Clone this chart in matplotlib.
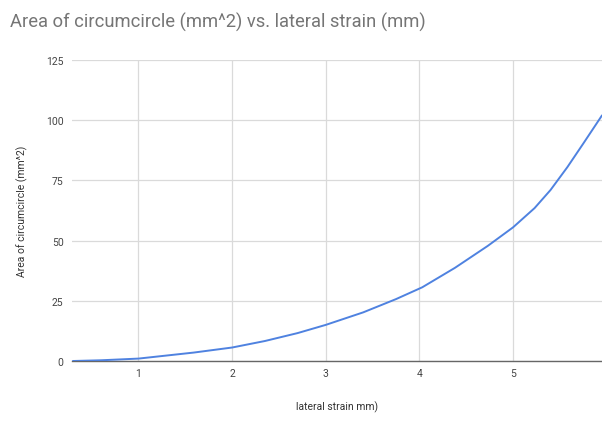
import matplotlib
matplotlib.use("Agg")
import matplotlib.pyplot as plt

# Data
lateral_strain = [0.30, 0.60, 1.00, 1.59, 2.00, 2.35, 2.70, 3.00, 3.40, 3.75,
                  4.03, 4.38, 4.73, 5.00, 5.23, 5.40, 5.58, 5.75, 5.95]
area = [0.0, 0.3, 1.0, 3.5, 5.6, 8.3, 11.6, 15.0, 20.2, 25.7,
        30.6, 38.7, 47.8, 55.5, 63.5, 71.0, 80.5, 90.3, 102.0]
x_ticks = [1, 2, 3, 4, 5]
y_ticks = [0, 25, 50, 75, 100, 125]

title = "Area of circumcircle (mm^2) vs. lateral strain (mm)"
x_label = "lateral strain mm)"
y_label = "Area of circumcircle (mm^2)"

plt.rcParams['font.family'] = ['Roboto', 'DejaVu Sans']

fig = plt.figure(figsize=(6.02, 4.27), dpi=100)
ax = fig.add_axes([72/602, 1-362/427, 1-72/602, (362-61)/427])

ax.plot(lateral_strain, area, color="#4f82e0", linewidth=1.4,
        solid_capstyle="round", solid_joinstyle="round", zorder=3)

ax.set_xlim(0.29, 5.95)
ax.set_ylim(0, 125)
ax.set_xticks(x_ticks)
ax.set_yticks(y_ticks)
ax.set_xticklabels([str(t) for t in x_ticks])
ax.set_yticklabels([str(t) for t in y_ticks])
ax.grid(True, color="#dadada", linewidth=0.9)
ax.set_axisbelow(True)
for s in ["top", "right", "left"]:
    ax.spines[s].set_visible(False)
ax.spines["bottom"].set_color("#666666")
ax.spines["bottom"].set_linewidth(1.0)
ax.tick_params(length=0, labelsize=7.5, colors="#444444")
ax.tick_params(axis="x", pad=5)
ax.tick_params(axis="y", pad=6)

fig.text(10/602, 1-22/427, title, fontsize=13.2, color="#757575", ha="left", va="center")
ax.set_xlabel(x_label, fontsize=7.5, color="#333333", labelpad=16)
ax.set_ylabel(y_label, fontsize=7.5, color="#333333", labelpad=13)

fig.savefig("out.png", dpi=100, facecolor="white")
